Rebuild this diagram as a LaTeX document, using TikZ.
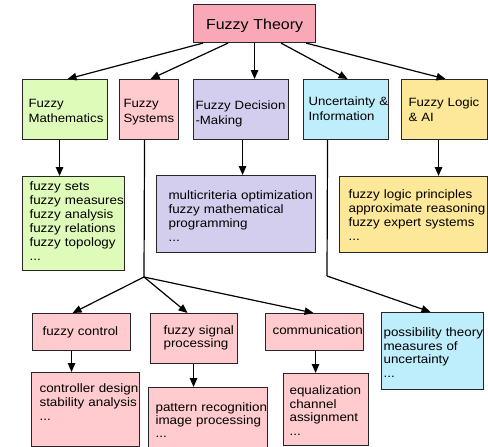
\documentclass[tikz,border=0pt]{standalone}
\usepackage{fontspec}
\setmainfont{Liberation Sans}[FakeStretch=1.1]
\usetikzlibrary{arrows.meta}
\definecolor{cTheory}{RGB}{249,168,184}
\definecolor{cPink}{RGB}{255,203,206}
\definecolor{cGreen}{RGB}{222,251,186}
\definecolor{cLav}{RGB}{212,206,238}
\definecolor{cBlue}{RGB}{190,237,252}
\definecolor{cYel}{RGB}{253,231,152}
\hyphenpenalty=10000
\exhyphenpenalty=10000
\begin{document}
\begin{tikzpicture}[x=1pt,y=1pt,
  bx/.style={draw=black!85, line width=1.1pt, anchor=north west, inner ysep=0pt, align=left},
  hd/.style={bx, font=\fontsize{12}{15}\selectfont},
  ls/.style={bx, font=\fontsize{12.2}{14}\selectfont},
  lt/.style={bx, font=\fontsize{12.2}{13}\selectfont},
  lm/.style={bx, font=\fontsize{12.2}{13.5}\selectfont},
  arr/.style={line width=1.2pt, -{Triangle[length=9pt,width=7.5pt]}},
  ln/.style={line width=1.2pt}]
\useasboundingbox[fill=white] (0,0) rectangle (488,-447);

\node[bx, fill=cTheory, align=center, text width=112pt, inner xsep=5pt, text height=25pt, text depth=13pt,
  font=\fontsize{14.5}{17}\selectfont] (ft) at (193,-4) {Fuzzy~Theory};

\node[hd, fill=cGreen, inner xsep=6pt, text width=73pt, text height=28pt, text depth=32pt] (fm) at (22,-79) {Fuzzy\\Mathematics};
\node[hd, fill=cPink, inner xsep=4pt, text width=51pt, text height=28pt, text depth=32pt] (fs) at (119,-79) {Fuzzy\\Systems};
\node[hd, fill=cLav, inner xsep=2pt, text width=91pt, text height=30pt, text depth=30pt] (fdm) at (193,-79) {Fuzzy~Decision\\-Making};
\node[hd, fill=cBlue, inner xsep=5pt, text width=75pt, text height=26pt, text depth=34pt] (ui) at (303,-79) {Uncertainty~\&\\Information};
\node[hd, fill=cYel, inner xsep=7pt, text width=72pt, text height=27pt, text depth=33pt] (fl) at (401,-79) {Fuzzy~Logic\\\&~AI};

\node[ls, fill=cGreen, inner xsep=7pt, text width=88pt, text height=14pt, text depth=80pt] (gl) at (22,-176)
  {fuzzy~sets\\fuzzy~measures\\fuzzy~analysis\\fuzzy~relations\\fuzzy~topology\\...};
\node[ls, fill=cLav, inner xsep=12pt, text width=135pt, text height=24pt, text depth=53pt] (lav) at (156,-175)
  {multicriteria~optimization\\fuzzy~mathematical\\programming\\...};
\node[ls, fill=cYel, inner xsep=9pt, text width=130pt, text height=22pt, text depth=54pt] (yl) at (339,-176)
  {fuzzy~logic~principles\\approximate~reasoning\\fuzzy~expert~systems\\...};

\node[ls, fill=cPink, inner xsep=10pt, text width=78pt, text height=22pt, text depth=15pt] (fc) at (32,-313) {fuzzy~control};
\node[lt, fill=cPink, inner xsep=13pt, text width=61pt, text height=21pt, text depth=29pt] (fsp) at (150,-313) {fuzzy~signal\\processing};
\node[ls, fill=cPink, inner xsep=7pt, text width=84pt, text height=21pt, text depth=16pt] (comm) at (265,-313) {communication};
\node[lm, fill=cBlue, inner xsep=2pt, text width=98pt, text height=24pt, text depth=53pt] (poss) at (381,-312)
  {possibility~theory\\measures~of\\uncertainty\\...};

\node[ls, fill=cPink, inner xsep=8pt, text width=92pt, text height=20pt, text depth=54pt] (cd) at (31,-372)
  {controller~design\\stability~analysis\\...};
\node[lt, fill=cPink, inner xsep=7pt, text width=105pt, text height=24pt, text depth=37pt] (pr) at (148,-387)
  {pattern~recognition\\image~processing\\...};
\node[lm, fill=cPink, inner xsep=6pt, text width=73pt, text height=21pt, text depth=51pt] (eq) at (283,-373)
  {equalization\\channel\\assignment\\...};

\draw[arr] ([xshift=10pt]ft.south west) -- ([xshift=2.5pt]fm.north);
\draw[arr] ([xshift=35pt]ft.south west) -- ([xshift=1.5pt]fs.north);
\draw[arr] (ft.south) -- (ft.south |- fdm.north);
\draw[arr] ([xshift=-35pt]ft.south east) -- ([xshift=1.5pt]ui.north);
\draw[arr] ([xshift=-10pt]ft.south east) -- ([xshift=1pt]fl.north);

\draw[arr] ([xshift=-5.5pt]fm.south) -- ([xshift=-5.5pt]fm.south |- gl.north);
\draw[arr] ([xshift=1.5pt]fdm.south) -- ([xshift=1.5pt]fdm.south |- lav.north);
\draw[arr] ([xshift=-6pt]fl.south) -- ([xshift=-6pt]fl.south |- yl.north);

\coordinate (b1) at (144,-277);
\draw[ln] ([xshift=-4.5pt]fs.south) -- (b1);
\draw[arr] (b1) -- ([xshift=-9pt]fc.north);
\draw[arr] (b1) -- ([xshift=-6.5pt]fsp.north);
\draw[arr] (b1) -- ([xshift=-1pt]comm.north);

\coordinate (b2) at (327,-276);
\draw[ln] ([xshift=-18.5pt]ui.south) -- (b2);
\draw[arr] (b2) -- ([xshift=-2pt]poss.north);

\draw[arr] ([xshift=-10pt]fc.south) -- ([xshift=-10pt]fc.south |- cd.north);
\draw[arr] ([xshift=-0.5pt]fsp.south) -- ([xshift=-0.5pt]fsp.south |- pr.north);
\draw[arr] ([xshift=1pt]comm.south) -- ([xshift=1pt]comm.south |- eq.north);
\end{tikzpicture}
\end{document}
